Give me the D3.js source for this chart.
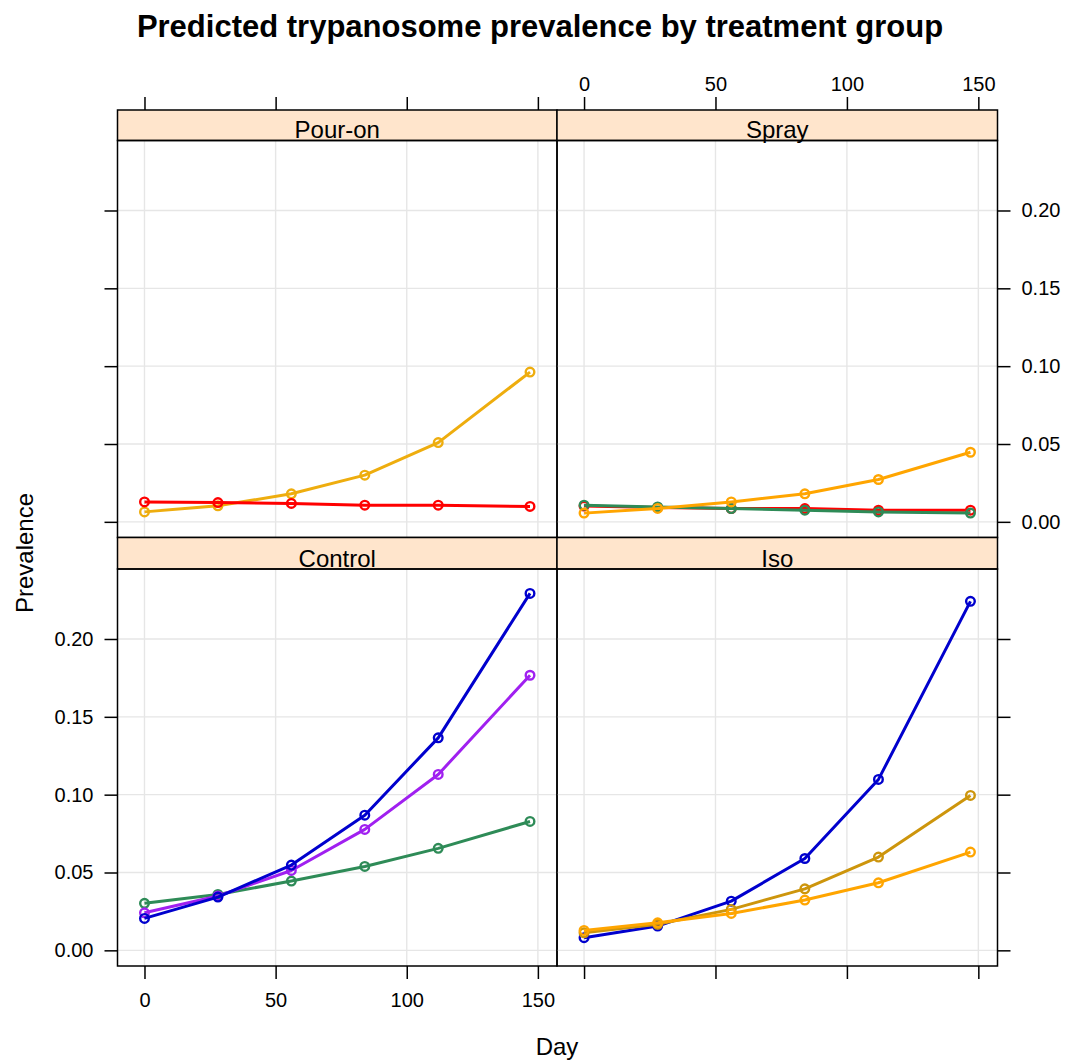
<!DOCTYPE html>
<html>
<head>
<meta charset="utf-8">
<script src="https://cdn.jsdelivr.net/npm/d3@7"></script>
<style>
  html, body { margin: 0; padding: 0; background: #fff; }
  text { font-family: "Liberation Sans", Arial, sans-serif; }
</style>
</head>
<body>
<svg id="chart" width="1072" height="1063"></svg>
<script>
// ---- data ----
const days = [0, 28, 56, 84, 112, 147];
const panelNames = ["Pour-on", "Spray", "Control", "Iso"];
const xTicks = [0, 50, 100, 150];
const yTicks = [0.00, 0.05, 0.10, 0.15, 0.20];

const pourOnGold  = [0.0064, 0.0103, 0.0180, 0.0300, 0.0509, 0.0962];
const pourOnRed   = [0.0128, 0.0124, 0.0118, 0.0107, 0.0107, 0.0099];

const sprayRed    = [0.0101, 0.0092, 0.0085, 0.0085, 0.0075, 0.0075];
const sprayGreen  = [0.0107, 0.0096, 0.0085, 0.0075, 0.0064, 0.0056];
const sprayOrange = [0.0056, 0.0086, 0.0128, 0.0180, 0.0272, 0.0447];

const controlGreen  = [0.0302, 0.0359, 0.0445, 0.0539, 0.0655, 0.0828];
const controlPurple = [0.0241, 0.0349, 0.0513, 0.0777, 0.1130, 0.1767];
const controlBlue   = [0.0205, 0.0342, 0.0548, 0.0868, 0.1365, 0.2293];

const isoBlue      = [0.0081, 0.0156, 0.0316, 0.0590, 0.1098, 0.2242];
const isoGoldenrod = [0.0113, 0.0167, 0.0263, 0.0395, 0.0599, 0.0995];
const isoOrange    = [0.0128, 0.0177, 0.0237, 0.0323, 0.0434, 0.0631];

const seriesColors = {
  gold: "#EEAD0E", red: "#FF0000", green: "#2E8B57", orange: "#FFA500",
  purple: "#A020F0", blue: "#0000CD", goldenrod: "#CD950C"
};

const panelSeries = {
  "Pour-on": [{v: pourOnGold, c: "gold"}, {v: pourOnRed, c: "red"}],
  "Spray":   [{v: sprayRed, c: "red"}, {v: sprayGreen, c: "green"}, {v: sprayOrange, c: "orange"}],
  "Control": [{v: controlGreen, c: "green"}, {v: controlPurple, c: "purple"}, {v: controlBlue, c: "blue"}],
  "Iso":     [{v: isoBlue, c: "blue"}, {v: isoGoldenrod, c: "goldenrod"}, {v: isoOrange, c: "orange"}]
};

// ---- layout ----
const svg = d3.select("#chart");
const colX = [[117.5, 557], [557, 997.5]];
const rows = [
  {strip: [110, 140.5], plot: [140.5, 537.5]},
  {strip: [537.5, 569], plot: [569, 966]}
];

// lattice-style 7% extended limits
function extend(lo, hi) { const d = hi - lo; return [lo - 0.07 * d, hi + 0.07 * d]; }
const allY = Object.values(panelSeries).flat().flatMap(s => s.v);
const xDom = extend(d3.min(days), d3.max(days));
const yDom = extend(d3.min(allY), d3.max(allY));

const tickFont = 20;

svg.append("text")
  .attr("x", 540).attr("y", 37)
  .attr("text-anchor", "middle")
  .attr("font-size", 31).attr("font-weight", "bold")
  .text("Predicted trypanosome prevalence by treatment group");

panelNames.forEach((name, i) => {
  const col = i % 2, row = Math.floor(i / 2);
  const [x0, x1] = colX[col];
  const r = rows[row];
  const x = d3.scaleLinear().domain(xDom).range([x0, x1]);
  const y = d3.scaleLinear().domain(yDom).range([r.plot[1], r.plot[0]]);
  const g = svg.append("g");

  // grid
  g.selectAll(".gx").data(xTicks).join("line")
    .attr("x1", d => x(d)).attr("x2", d => x(d))
    .attr("y1", r.plot[0]).attr("y2", r.plot[1])
    .attr("stroke", "#e6e6e6").attr("stroke-width", 1.4);
  g.selectAll(".gy").data(yTicks).join("line")
    .attr("y1", d => y(d)).attr("y2", d => y(d))
    .attr("x1", x0).attr("x2", x1)
    .attr("stroke", "#e6e6e6").attr("stroke-width", 1.4);

  // series
  const line = d3.line().x((d, j) => x(days[j])).y(d => y(d));
  panelSeries[name].forEach(s => {
    const col = seriesColors[s.c];
    g.append("path").datum(s.v)
      .attr("d", line).attr("fill", "none")
      .attr("stroke", col).attr("stroke-width", 3)
      .attr("stroke-linejoin", "round");
    g.selectAll(null).data(s.v).join("circle")
      .attr("cx", (d, j) => x(days[j])).attr("cy", d => y(d))
      .attr("r", 4.3).attr("fill", "none")
      .attr("stroke", col).attr("stroke-width", 2.4);
  });

  // strip
  g.append("rect")
    .attr("x", x0).attr("y", r.strip[0])
    .attr("width", x1 - x0).attr("height", r.strip[1] - r.strip[0])
    .attr("fill", "#FFE5CC").attr("stroke", "#000").attr("stroke-width", 1.5);
  g.append("text")
    .attr("x", (x0 + x1) / 2).attr("y", r.strip[1] - 2.5)
    .attr("text-anchor", "middle").attr("font-size", 24)
    .text(name);

  // panel border
  g.append("rect")
    .attr("x", x0).attr("y", r.plot[0])
    .attr("width", x1 - x0).attr("height", r.plot[1] - r.plot[0])
    .attr("fill", "none").attr("stroke", "#000").attr("stroke-width", 1.5);

  // axes
  function styleAxis(sel) {
    sel.select(".domain").remove();
    sel.selectAll(".tick line").attr("stroke", "#000").attr("stroke-width", 1.5);
    sel.selectAll(".tick text").attr("font-size", tickFont)
      .attr("font-family", "Liberation Sans, Arial, sans-serif").attr("fill", "#000");
  }
  const fmtY = d3.format(".2f");
  if (row === 0) {
    const ax = d3.axisTop(x).tickValues(xTicks).tickSize(13).tickPadding(6)
      .tickFormat(col === 1 ? d3.format("d") : () => "");
    svg.append("g").attr("transform", `translate(0,${r.strip[0]})`).call(ax).call(styleAxis);
  } else {
    const ax = d3.axisBottom(x).tickValues(xTicks).tickSize(13).tickPadding(14)
      .tickFormat(col === 0 ? d3.format("d") : () => "");
    svg.append("g").attr("transform", `translate(0,${r.plot[1]})`).call(ax).call(styleAxis);
  }
  if (col === 0) {
    const ax = d3.axisLeft(y).tickValues(yTicks).tickSize(13).tickPadding(11)
      .tickFormat(row === 1 ? fmtY : () => "");
    svg.append("g").attr("transform", `translate(${x0},0)`).call(ax).call(styleAxis);
  } else {
    const ax = d3.axisRight(y).tickValues(yTicks).tickSize(13).tickPadding(11)
      .tickFormat(row === 0 ? fmtY : () => "");
    svg.append("g").attr("transform", `translate(${x1},0)`).call(ax).call(styleAxis);
  }
});

svg.append("text")
  .attr("x", 557).attr("y", 1055)
  .attr("text-anchor", "middle").attr("font-size", 24)
  .text("Day");
svg.append("text")
  .attr("transform", "translate(33,553) rotate(-90)")
  .attr("text-anchor", "middle").attr("font-size", 24)
  .text("Prevalence");
</script>
</body>
</html>
